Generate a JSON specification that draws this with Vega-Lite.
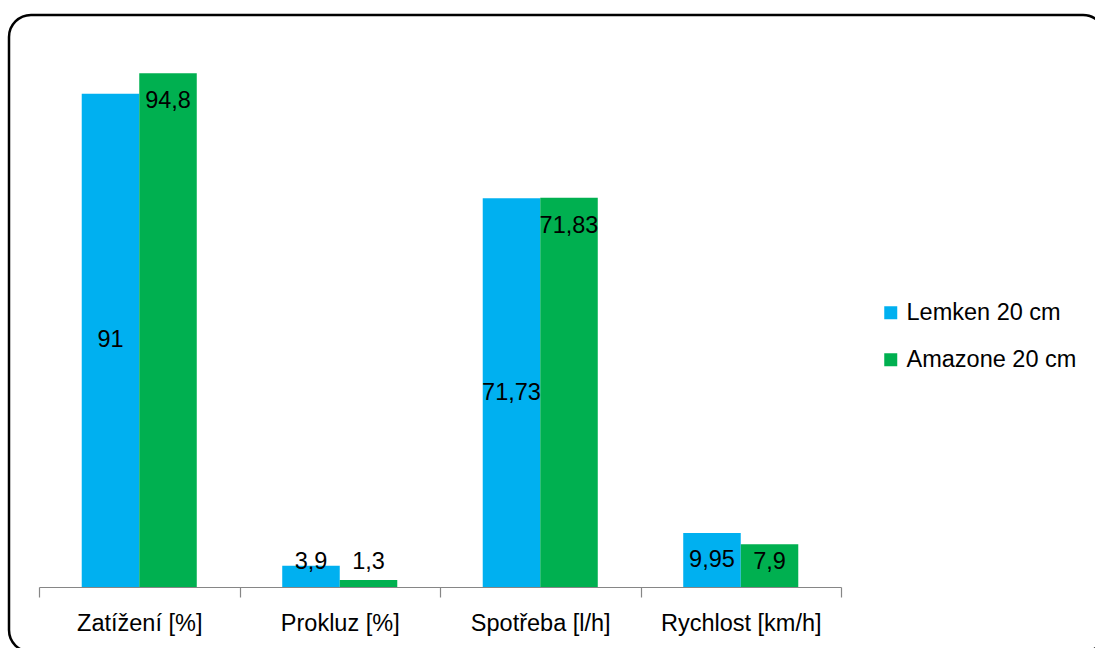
{
  "$schema": "https://vega.github.io/schema/vega-lite/v6.json",
  "autosize": {"type": "none"},
  "padding": {"left": 9, "top": 15, "right": 0, "bottom": 0},
  "width": 1096,
  "height": 637,
  "background": "white",
  "config": {
    "font": "Liberation Sans",
    "locale": {"number": {"decimal": ",", "thousands": " ", "grouping": [3], "currency": ["", " Kč"]}},
    "view": {"stroke": "black", "strokeWidth": 2.5, "cornerRadius": 22, "fill": "white"}
  },
  "data": {
    "values": [
      {"category": "Zatížení [%]", "series": "Lemken 20 cm", "value": 91},
      {"category": "Zatížení [%]", "series": "Amazone 20 cm", "value": 94.8},
      {"category": "Prokluz [%]", "series": "Lemken 20 cm", "value": 3.9},
      {"category": "Prokluz [%]", "series": "Amazone 20 cm", "value": 1.3},
      {"category": "Spotřeba [l/h]", "series": "Lemken 20 cm", "value": 71.73},
      {"category": "Spotřeba [l/h]", "series": "Amazone 20 cm", "value": 71.83},
      {"category": "Rychlost [km/h]", "series": "Lemken 20 cm", "value": 9.95},
      {"category": "Rychlost [km/h]", "series": "Amazone 20 cm", "value": 7.9}
    ]
  },
  "encoding": {
    "x": {
      "field": "category",
      "type": "nominal",
      "sort": null,
      "scale": {"range": [30, 832], "paddingInner": 0, "paddingOuter": 0},
      "axis": {
        "title": null,
        "orient": "bottom",
        "offset": -65,
        "tickBand": "extent",
        "labelAngle": 0,
        "labelFontSize": 23.5,
        "labelColor": "black",
        "labelPadding": 14,
        "tickSize": 10,
        "tickColor": "#868686",
        "domainColor": "#868686",
        "domainWidth": 1.2,
        "tickWidth": 1.2,
        "grid": false
      }
    },
    "xOffset": {
      "field": "series",
      "type": "nominal",
      "sort": ["Lemken 20 cm", "Amazone 20 cm"],
      "scale": {"paddingInner": 0, "paddingOuter": 0.743}
    }
  },
  "layer": [
    {
      "mark": {"type": "bar"},
      "encoding": {
        "y": {
          "field": "value",
          "type": "quantitative",
          "scale": {"domain": [0, 100], "range": [572, 30], "nice": false, "zero": true},
          "axis": null
        },
        "color": {
          "field": "series",
          "type": "nominal",
          "scale": {"domain": ["Lemken 20 cm", "Amazone 20 cm"], "range": ["#00B0F0", "#00B050"]},
          "legend": {
            "title": null,
            "orient": "none",
            "legendX": 870,
            "legendY": 286,
            "padding": 0,
            "symbolType": "square",
            "symbolSize": 169,
            "symbolStrokeWidth": 0,
            "labelFontSize": 23.5,
            "labelColor": "black",
            "labelOffset": 4,
            "labelLimit": 400,
            "rowPadding": 22
          }
        }
      }
    },
    {
      "transform": [
        {"calculate": "datum.series === 'Lemken 20 cm' ? max(datum.value / 2, 4.61) : max(datum.value - 5.17, 4.61)", "as": "labelAt"}
      ],
      "mark": {"type": "text", "fontSize": 23.5, "color": "black", "baseline": "middle", "align": "center"},
      "encoding": {
        "y": {"field": "labelAt", "type": "quantitative"},
        "text": {"field": "value", "type": "quantitative", "format": "~r"}
      }
    }
  ]
}
